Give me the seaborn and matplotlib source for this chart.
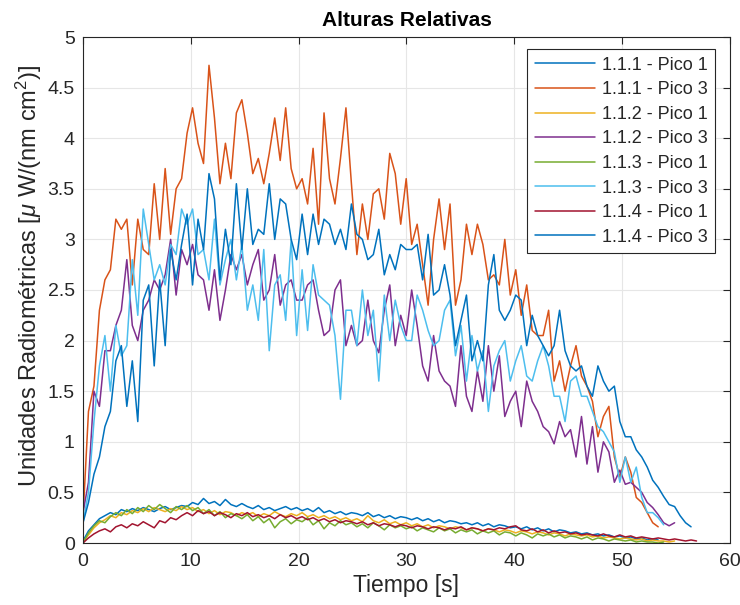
import numpy as np
import pandas as pd
import matplotlib
matplotlib.use('Agg')
import matplotlib.pyplot as plt
import seaborn as sns

# intervalo de muestreo [s]
dt = 0.508

labels = ['1.1.1 - Pico 1', '1.1.1 - Pico 3', '1.1.2 - Pico 1', '1.1.2 - Pico 3',
          '1.1.3 - Pico 1', '1.1.3 - Pico 3', '1.1.4 - Pico 1', '1.1.4 - Pico 3']
colores = ['#0072BD', '#D95319', '#EDB120', '#7E2F8E',
           '#77AC30', '#4DBEEE', '#A2142F', '#0072BD']

p111_1 = [0.02, 0.12, 0.18, 0.24, 0.27, 0.3, 0.28, 0.33, 0.31, 0.34,
          0.32, 0.35, 0.33, 0.31, 0.34, 0.36, 0.33, 0.35, 0.37, 0.36,
          0.4, 0.38, 0.44, 0.39, 0.41, 0.37, 0.43, 0.38, 0.36, 0.39,
          0.36, 0.34, 0.37, 0.33, 0.35, 0.32, 0.34, 0.36, 0.33, 0.35,
          0.32, 0.34, 0.31, 0.35, 0.3, 0.32, 0.29, 0.31, 0.28, 0.3,
          0.29, 0.27, 0.3, 0.26, 0.28, 0.25, 0.27, 0.24, 0.26, 0.25,
          0.23, 0.25, 0.22, 0.24, 0.21, 0.23, 0.2, 0.22, 0.21, 0.19,
          0.2, 0.18, 0.2, 0.17, 0.19, 0.16, 0.18, 0.17, 0.15, 0.16,
          0.14, 0.16, 0.13, 0.15, 0.12, 0.14, 0.11, 0.13, 0.12, 0.1,
          0.11, 0.09, 0.1, 0.08, 0.09, 0.07, 0.08, 0.06, 0.07, 0.05,
          0.06, 0.04, 0.05, 0.03, 0.04, 0.03]

p111_3 = [0.25, 1.3, 1.55, 2.3, 2.6, 2.7, 3.2, 3.1, 3.2, 2.55,
          3.2, 2.9, 2.85, 3.55, 3.0, 3.7, 3.05, 3.5, 3.6, 4.05,
          4.3, 3.95, 3.75, 4.72, 4.2, 3.55, 3.95, 3.6, 4.25, 4.38,
          4.05, 3.65, 3.8, 3.55, 3.85, 4.2, 3.78, 4.3, 3.7, 3.5,
          3.6, 3.35, 3.9, 3.15, 4.25, 3.6, 3.35, 3.8, 4.3, 3.55,
          2.85, 3.35, 3.0, 3.45, 3.5, 3.2, 3.85, 3.65, 3.15, 3.6,
          2.95, 3.15, 2.75, 2.35, 3.0, 3.4, 2.9, 3.35, 2.35, 2.6,
          3.15, 2.85, 3.15, 2.95, 2.6, 2.65, 2.55, 3.0, 2.45, 2.7,
          2.25, 2.55, 2.1, 2.05, 2.05, 2.3, 1.6, 1.8, 1.5, 1.75,
          1.95, 1.65, 1.55, 1.4, 1.05, 1.25, 1.35, 0.85, 0.65, 0.85,
          0.7, 0.45, 0.4, 0.3, 0.2, 0.16]

p112_1 = [0.01, 0.08, 0.15, 0.2, 0.23, 0.27, 0.25, 0.3, 0.28, 0.32,
          0.3, 0.34, 0.31, 0.35, 0.33, 0.31, 0.34, 0.32, 0.36, 0.33,
          0.35, 0.31, 0.33, 0.29, 0.32, 0.28, 0.31, 0.3, 0.27, 0.3,
          0.28, 0.3, 0.26, 0.29, 0.27, 0.31, 0.28, 0.26, 0.29, 0.27,
          0.3, 0.26, 0.28, 0.25, 0.27, 0.24, 0.26, 0.23, 0.25, 0.22,
          0.24, 0.21, 0.27, 0.22, 0.2, 0.23, 0.19, 0.21, 0.18, 0.2,
          0.17, 0.19, 0.16, 0.18, 0.15, 0.17, 0.16, 0.14, 0.16, 0.15,
          0.13, 0.15, 0.14, 0.12, 0.14, 0.13, 0.11, 0.13, 0.12, 0.1,
          0.12, 0.11, 0.09, 0.11, 0.1, 0.08, 0.1, 0.09, 0.07, 0.09,
          0.08, 0.07, 0.08, 0.06, 0.07, 0.05, 0.06, 0.05, 0.04, 0.05,
          0.04, 0.03, 0.04, 0.02, 0.03, 0.02, 0.02, 0.01, 0.02]

p112_3 = [0.3, 0.6, 1.5, 1.35, 1.9, 1.9, 2.15, 2.3, 2.8, 2.15,
          2.0, 2.3, 2.4, 2.6, 2.5, 2.65, 3.0, 2.45, 2.9, 2.75,
          2.95, 2.65, 2.6, 2.3, 2.7, 2.2, 2.5, 2.85, 2.7, 2.85,
          2.55, 2.75, 2.9, 2.4, 2.5, 2.85, 2.35, 2.55, 2.6, 2.4,
          2.4, 2.55, 2.6, 2.3, 2.05, 2.1, 2.5, 2.6, 1.95, 2.15,
          1.95, 2.0, 2.4, 2.0, 1.88, 2.3, 2.55, 1.95, 2.25, 2.05,
          2.5, 2.15, 1.75, 1.6, 2.05, 1.7, 1.6, 1.55, 1.35, 1.95,
          1.45, 1.3, 1.7, 1.4, 1.95, 1.5, 1.85, 1.25, 1.4, 1.5,
          1.15, 1.6, 1.4, 1.3, 1.15, 1.1, 0.98, 1.2, 1.05, 1.12,
          0.85, 1.25, 0.78, 1.15, 0.7, 1.0, 0.9, 0.6, 0.72, 0.58,
          0.6, 0.55, 0.5, 0.4, 0.35, 0.28, 0.2, 0.17, 0.2]

p113_1 = [0.0, 0.1, 0.17, 0.22, 0.2, 0.26, 0.3, 0.27, 0.33, 0.29,
          0.35, 0.31, 0.37, 0.33, 0.38, 0.34, 0.3, 0.36, 0.33, 0.37,
          0.32, 0.35, 0.29, 0.33, 0.27, 0.31, 0.25, 0.29, 0.27, 0.24,
          0.28, 0.22, 0.26, 0.2, 0.24, 0.15, 0.21, 0.24, 0.19, 0.23,
          0.21, 0.25, 0.18, 0.22, 0.14, 0.2, 0.17, 0.22, 0.18, 0.2,
          0.16, 0.19, 0.15, 0.2, 0.17, 0.13, 0.18, 0.15, 0.17, 0.14,
          0.16, 0.12, 0.15, 0.13, 0.11, 0.15, 0.12, 0.14, 0.1, 0.13,
          0.11, 0.13, 0.09, 0.12, 0.1, 0.12, 0.08, 0.11, 0.1, 0.07,
          0.1, 0.08, 0.05, 0.09, 0.07, 0.09, 0.06, 0.08, 0.05, 0.07,
          0.06, 0.04, 0.06, 0.03, 0.05, 0.04, 0.02, 0.04, 0.03, 0.02,
          0.03, 0.01, 0.02, 0.01, 0.01, 0.0, 0.01]

p113_3 = [0.2, 0.5, 1.2, 1.75, 2.05, 1.5, 2.15, 1.85, 1.95, 2.8,
          2.25, 3.3, 2.95, 2.6, 2.75, 2.55, 2.95, 2.85, 3.3, 3.15,
          3.3, 2.85, 2.9, 2.6, 3.2, 2.55, 2.8, 3.0, 2.6, 2.95,
          2.3, 2.55, 2.2, 2.9, 1.9, 2.55, 2.65, 2.2, 3.0, 2.05,
          2.7, 2.1, 2.75, 2.45, 2.4, 2.35, 2.05, 1.42, 2.3, 2.3,
          1.95, 2.5, 2.05, 2.3, 1.6, 2.45, 2.0, 2.4, 2.15, 2.0,
          2.0, 2.45, 2.3, 2.1, 1.95, 2.0, 2.3, 2.4, 1.85, 2.15,
          1.6, 2.05, 1.7, 1.9, 1.3, 1.75, 1.9, 2.0, 1.6, 1.8,
          1.95, 1.65, 1.6, 1.8, 1.95, 1.75, 1.45, 1.45, 1.2, 1.6,
          1.65, 1.45, 1.45, 1.3, 1.15, 1.1, 1.0, 0.9, 0.6, 0.85,
          0.6, 0.75, 0.45, 0.3, 0.3, 0.25, 0.18]

p114_1 = [0.0, 0.05, 0.09, 0.12, 0.14, 0.11, 0.16, 0.18, 0.15, 0.19,
          0.17, 0.21, 0.18, 0.15, 0.22, 0.2, 0.25, 0.23, 0.27, 0.3,
          0.27, 0.32, 0.29, 0.31, 0.27, 0.3, 0.28, 0.25, 0.29, 0.27,
          0.3, 0.26, 0.28, 0.25, 0.27, 0.24, 0.28, 0.25, 0.27, 0.24,
          0.26, 0.23, 0.25, 0.22, 0.24, 0.21, 0.23, 0.2, 0.22, 0.21,
          0.19, 0.21, 0.18, 0.2, 0.17, 0.19, 0.18, 0.16, 0.18, 0.17,
          0.15, 0.17, 0.16, 0.14, 0.16, 0.15, 0.13, 0.15, 0.14, 0.16,
          0.13, 0.15, 0.14, 0.12, 0.14, 0.13, 0.15, 0.14, 0.16, 0.17,
          0.13, 0.12, 0.14, 0.11, 0.13, 0.1, 0.12, 0.1, 0.11, 0.09,
          0.1, 0.08, 0.09, 0.08, 0.07, 0.09, 0.07, 0.06, 0.08, 0.06,
          0.07, 0.05, 0.06, 0.05, 0.04, 0.05, 0.04, 0.03, 0.04, 0.03,
          0.02, 0.03, 0.02]

p114_3 = [0.2, 0.4, 0.68, 0.85, 1.15, 1.3, 1.8, 1.95, 1.35, 1.8,
          1.2, 2.4, 2.55, 1.75, 2.6, 1.95, 2.9, 2.6, 2.95, 3.25,
          2.55, 3.2, 2.9, 3.65, 3.4, 2.6, 3.1, 2.75, 3.55, 2.9,
          3.5, 2.95, 3.1, 3.05, 3.55, 3.0, 3.4, 3.35, 3.0, 2.8,
          3.25, 2.85, 3.25, 2.95, 3.2, 3.15, 2.95, 3.1, 2.9, 3.35,
          3.05, 3.0, 2.8, 2.85, 3.1, 2.65, 2.85, 2.7, 2.95, 2.9,
          2.9, 2.95, 2.6, 3.05, 2.45, 2.5, 2.75, 2.45, 1.95, 2.2,
          2.45, 1.8, 2.0, 1.8, 2.55, 2.85, 2.3, 2.2, 2.3, 2.45,
          2.4, 1.95, 2.25, 2.05, 1.95, 1.85, 1.95, 2.3, 1.9, 1.75,
          1.7, 1.75, 1.55, 1.45, 1.75, 1.6, 1.5, 1.55, 1.2, 1.05,
          1.05, 0.92, 0.85, 0.75, 0.62, 0.55, 0.46, 0.38, 0.36, 0.27,
          0.2, 0.16]

series = [p111_1, p111_3, p112_1, p112_3, p113_1, p113_3, p114_1, p114_3]

xticks = [0, 10, 20, 30, 40, 50, 60]
yticks = [0, 0.5, 1, 1.5, 2, 2.5, 3, 3.5, 4, 4.5, 5]
ytick_labels = ['0', '0.5', '1', '1.5', '2', '2.5', '3', '3.5', '4', '4.5', '5']

frames = []
for lab, vals in zip(labels, series):
    frames.append(pd.DataFrame({'t': np.arange(len(vals)) * dt, 'v': vals, 'serie': lab}))
df = pd.concat(frames, ignore_index=True)

sns.set_style('white')
plt.rcParams['font.family'] = ['Liberation Sans', 'DejaVu Sans']
plt.rcParams['mathtext.fontset'] = 'custom'
plt.rcParams['mathtext.rm'] = 'Liberation Sans'
plt.rcParams['mathtext.it'] = 'Liberation Sans:italic'

fig = plt.figure(figsize=(7.4, 6.05), dpi=100)
ax = fig.add_axes([83 / 740, 62 / 605, 647 / 740, 506 / 605])

sns.lineplot(data=df, x='t', y='v', hue='serie', hue_order=labels,
             palette=colores, estimator=None, sort=False, linewidth=1.1, ax=ax)

gris = '#262626'
ax.set_xlim(0, 60)
ax.set_ylim(0, 5)
ax.set_xticks(xticks)
ax.set_yticks(yticks)
ax.set_yticklabels(ytick_labels)
ax.tick_params(direction='in', length=5, width=0.8, colors=gris, labelsize=14,
               top=True, right=True, labeltop=False, labelright=False)
ax.tick_params(axis='y', pad=6)
ax.tick_params(axis='x', pad=7)
for s in ax.spines.values():
    s.set_color(gris)
    s.set_linewidth(0.8)
ax.grid(True, color='#e6e6e6', linewidth=0.8)
ax.set_axisbelow(True)

ax.set_xlabel('Tiempo [s]', fontsize=16.5, color=gris, labelpad=3)
ax.set_ylabel(r'Unidades Radiométricas [$\mu$ W/(nm cm$^2$)]', fontsize=17, color=gris)
ax.yaxis.set_label_coords(-0.061, 0.528)
ax.set_title('Alturas Relativas', fontsize=15, fontweight='bold', color='black', pad=8)

leg = ax.legend(loc='upper right', bbox_to_anchor=(0.977, 0.976), borderaxespad=0,
                fontsize=13, frameon=True, fancybox=False, edgecolor='#262626', framealpha=1,
                handlelength=3.3, handletextpad=0.4, labelspacing=0.42, borderpad=0.42)
leg.get_frame().set_linewidth(0.8)
for h in leg.get_lines():
    h.set_linewidth(1.1)
for t in leg.get_texts():
    t.set_color(gris)

fig.savefig('out.png', dpi=100)
